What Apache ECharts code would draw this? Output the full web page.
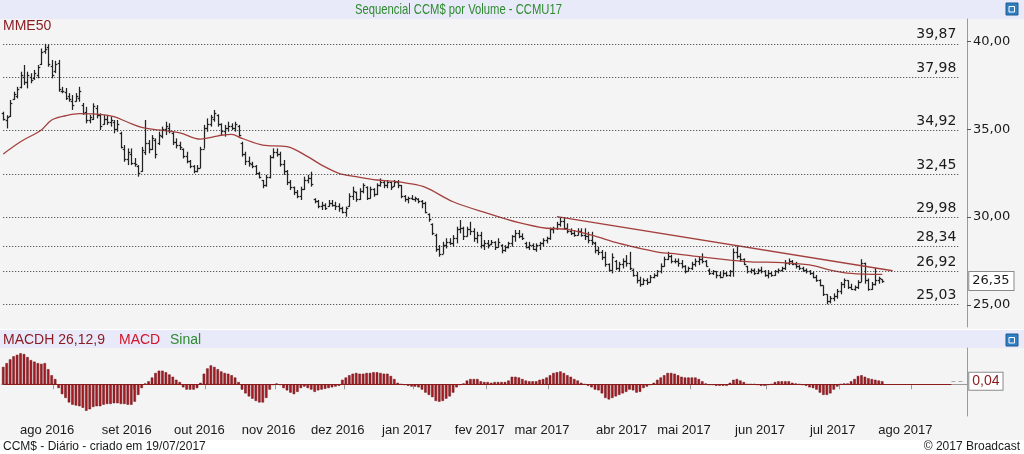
<!DOCTYPE html>
<html><head><meta charset="utf-8">
<script src="https://cdn.jsdelivr.net/npm/echarts@6/dist/echarts.min.js"></script>
<style>html,body{margin:0;padding:0;background:#fff}#c{width:1024px;height:454px}</style>
</head><body><div id="c"></div>
<script>
// ---- data ----
const monthLabels = ['', 'ago 2016', 'set 2016', 'out 2016', 'nov 2016', 'dez 2016', 'jan 2017', 'fev 2017', 'mar 2017', 'abr 2017', 'mai 2017', 'jun 2017', 'jul 2017', 'ago 2017'];
const monthSessions = [15, 23, 21, 20, 20, 20, 21, 18, 23, 18, 22, 21, 21, 16];
const priceTicks = [25, 30, 35, 40];
const fibLevels = [39.87, 37.98, 34.92, 32.45, 29.98, 28.34, 26.92, 25.03];
// [open, high, low, close] per session
const ohlcBars = [
[35.90,36.00,35.50,35.60],[35.50,35.80,35.05,35.70],[35.75,36.67,35.70,36.50],[36.70,37.14,36.67,37.00],[36.90,37.42,36.76,37.30],
[37.40,38.28,37.33,38.10],[38.00,38.66,37.52,37.70],[37.70,38.28,37.33,38.10],[38.00,38.19,37.62,37.80],[37.90,38.38,37.81,38.20],
[38.10,38.66,37.90,38.55],[38.70,39.60,38.66,39.40],[39.45,39.87,39.30,39.60],[39.70,39.84,38.56,38.70],[38.60,38.95,37.90,38.10],
[38.30,38.90,38.20,38.70],[38.80,38.95,37.14,37.30],[37.20,37.42,37.05,37.20],[37.10,37.35,36.67,36.80],[36.90,37.06,36.57,36.70],
[36.60,36.95,36.10,36.40],[36.60,37.06,36.57,36.90],[36.80,37.42,36.57,37.20],[36.40,36.50,35.82,35.90],[36.00,36.28,35.34,35.50],
[35.50,35.82,35.34,35.70],[35.60,36.48,35.53,36.30],[36.20,36.38,35.62,35.80],[35.80,35.90,34.96,35.20],[35.30,35.82,35.25,35.60],
[35.60,35.82,35.25,35.40],[35.40,35.72,35.15,35.50],[35.40,35.53,34.77,35.00],[35.00,35.53,34.86,35.30],[34.80,34.86,33.91,34.00],
[33.90,34.10,33.15,33.30],[33.30,33.91,32.96,33.70],[33.60,33.91,32.96,33.10],[33.10,33.36,32.87,33.00],[32.90,32.96,32.30,32.50],
[32.60,34.00,32.58,33.80],[33.70,35.53,33.53,34.20],[34.20,34.39,33.63,33.90],[33.90,34.67,33.82,34.50],[34.40,34.48,33.34,33.60],
[34.20,34.86,34.10,34.70],[34.60,35.15,34.48,35.00],[35.00,35.43,34.67,35.20],[35.10,35.34,34.77,34.90],[34.80,34.86,34.10,34.30],
[34.30,34.48,33.91,34.10],[34.10,34.29,33.82,34.00],[33.90,33.91,33.34,33.50],[33.50,33.72,33.06,33.20],[33.20,33.25,32.78,32.90],
[32.90,32.96,32.49,32.60],[32.60,32.96,32.55,32.80],[32.80,34.00,32.78,33.90],[33.90,35.25,33.90,35.10],[35.10,35.62,34.86,35.30],
[35.30,35.82,35.15,35.70],[35.60,36.10,35.43,35.90],[35.80,35.85,35.15,35.30],[35.30,35.34,34.67,34.90],[34.90,35.25,34.58,35.10],
[35.10,35.43,34.86,35.20],[35.20,35.34,34.96,35.10],[35.10,35.43,34.86,35.30],[35.20,35.25,34.58,34.70],[34.20,34.29,33.44,33.60],
[33.60,33.72,32.96,33.20],[33.20,33.44,32.87,33.10],[33.00,33.15,32.78,32.90],[32.90,32.96,32.40,32.50],[32.50,32.58,32.20,32.30],
[32.10,32.11,31.64,31.80],[31.80,32.40,31.73,32.30],[32.30,33.53,32.20,33.40],[33.40,33.91,33.34,33.70],[33.70,33.91,33.44,33.60],
[33.60,33.72,32.87,33.00],[33.00,33.25,32.40,32.60],[32.60,32.68,31.82,32.00],[32.00,32.11,31.54,31.70],[31.70,31.73,31.25,31.40],
[31.40,31.54,31.07,31.20],[31.20,31.73,30.97,31.60],[31.60,32.30,31.54,32.10],[32.10,32.40,31.92,32.20],[32.20,32.58,31.73,31.90],
[31.00,31.07,30.78,30.90],[30.90,30.97,30.50,30.60],[30.60,30.87,30.40,30.70],[30.70,30.78,30.40,30.50],[30.60,30.97,30.59,30.80],
[30.80,30.97,30.59,30.70],[30.70,30.87,30.40,30.60],[30.60,30.78,30.30,30.50],[30.50,30.59,30.21,30.30],[30.30,30.59,30.02,30.50],
[30.60,31.35,30.59,31.20],[31.20,31.73,30.97,31.50],[31.40,31.45,30.87,31.00],[31.00,31.64,30.97,31.50],[31.50,31.92,31.35,31.80],
[31.70,31.75,30.97,31.10],[31.10,31.73,31.05,31.60],[31.60,31.64,31.16,31.30],[31.30,31.92,31.25,31.80],[31.80,32.20,31.73,32.00],
[32.00,32.11,31.64,31.80],[31.80,32.11,31.64,32.00],[32.00,32.01,31.54,31.70],[31.75,32.11,31.73,32.00],[32.00,32.11,31.64,31.80],
[31.80,31.82,31.07,31.20],[31.20,31.25,30.87,31.00],[31.00,31.16,30.78,31.10],[31.10,31.25,30.97,31.00],[31.00,31.16,30.87,31.10],
[31.00,31.07,30.78,30.90],[30.90,30.97,30.50,30.80],[30.80,30.87,30.21,30.30],[30.20,30.21,29.73,29.90],[29.60,29.64,28.97,29.10],
[29.00,29.05,28.02,28.20],[28.20,28.40,27.74,27.90],[27.90,28.59,27.90,28.40],[28.40,28.79,28.21,28.60],[28.60,28.79,28.40,28.50],
[28.50,28.97,28.31,28.80],[28.80,29.45,28.50,29.30],[29.30,29.83,29.07,29.40],[29.40,29.45,28.69,28.90],[28.90,29.45,28.88,29.30],
[29.30,29.73,28.97,29.20],[29.20,29.36,28.59,28.80],[28.80,29.16,28.50,29.00],[29.00,29.16,28.21,28.40],[28.40,28.69,28.12,28.50],
[28.50,28.69,28.21,28.40],[28.45,28.69,28.40,28.60],[28.60,28.62,28.12,28.30],[28.30,28.79,28.25,28.60],[28.40,28.45,27.93,28.10],
[28.10,28.40,28.02,28.30],[28.30,28.59,28.21,28.50],[28.50,28.97,28.31,28.90],[28.90,29.26,28.59,29.10],[29.10,29.26,28.79,28.90],
[28.90,29.07,28.69,28.80],[28.50,28.59,28.21,28.30],[28.30,28.59,28.12,28.40],[28.40,28.50,28.12,28.20],[28.20,28.50,28.02,28.40],
[28.40,28.59,28.12,28.50],[28.50,28.79,28.31,28.70],[28.70,28.88,28.50,28.80],[28.80,29.40,28.70,29.30],[29.30,29.45,29.07,29.40],
[29.40,29.73,29.26,29.60],[29.60,29.98,29.45,29.80],[29.80,29.98,29.26,29.40],[29.40,29.64,29.07,29.20],[29.20,29.36,28.97,29.10],
[29.10,29.26,28.88,29.00],[29.00,29.36,28.95,29.20],[29.20,29.36,28.88,29.00],[29.00,29.36,28.69,28.90],[28.90,29.16,28.50,28.70],
[28.70,29.16,28.40,28.60],[28.50,28.59,27.93,28.10],[28.10,28.31,27.83,28.00],[28.00,28.12,27.55,27.70],[27.70,28.02,27.17,27.30],
[27.30,27.36,26.88,27.00],[27.00,27.93,26.79,27.70],[27.50,27.55,26.98,27.10],[27.10,27.45,26.88,27.30],[27.30,27.64,27.07,27.50],
[27.50,27.83,27.17,27.40],[27.40,28.02,26.98,27.10],[27.00,27.07,26.60,26.70],[26.70,26.88,26.22,26.40],[26.40,26.60,26.03,26.20],
[26.20,26.51,26.13,26.40],[26.40,26.51,26.13,26.30],[26.30,26.70,26.25,26.60],[26.60,26.79,26.51,26.70],[26.70,26.98,26.60,26.90],
[26.90,27.36,26.79,27.20],[27.20,27.74,27.17,27.60],[27.60,28.02,27.55,27.80],[27.80,27.85,27.36,27.50],[27.50,27.64,27.36,27.50],
[27.50,27.64,27.17,27.40],[27.40,27.55,27.07,27.20],[27.20,27.26,26.79,26.90],[26.90,27.17,26.88,27.10],[27.10,27.45,26.98,27.30],
[27.30,27.64,27.17,27.50],[27.50,27.74,27.26,27.60],[27.60,27.93,27.36,27.50],[27.50,27.55,27.17,27.20],[27.00,27.07,26.70,26.80],
[26.80,26.98,26.70,26.90],[26.90,26.92,26.51,26.70],[26.70,26.88,26.51,26.60],[26.60,26.98,26.60,26.80],[26.80,26.88,26.60,26.70],
[26.70,26.98,26.60,26.90],[26.90,28.21,26.60,28.00],[28.00,28.34,27.64,27.80],[27.80,27.93,27.45,27.60],[27.60,27.64,27.26,27.30],
[27.20,27.22,26.79,26.90],[26.90,27.07,26.79,27.00],[27.00,27.07,26.70,26.80],[26.80,27.07,26.75,27.00],[27.00,27.17,26.79,26.90],
[26.90,26.98,26.60,26.70],[26.70,26.98,26.51,26.80],[26.80,26.88,26.60,26.70],[26.70,26.98,26.65,26.90],[26.90,27.07,26.79,27.00],
[27.00,27.17,26.88,27.10],[27.10,27.55,26.98,27.40],[27.40,27.64,27.26,27.50],[27.50,27.55,27.26,27.30],[27.30,27.45,27.07,27.20],
[27.20,27.26,26.98,27.10],[27.10,27.17,26.88,27.00],[27.00,27.07,26.79,26.90],[26.90,26.98,26.70,26.80],[26.80,26.88,26.51,26.60],
[26.60,26.70,26.31,26.40],[26.40,26.45,26.05,26.10],[26.10,26.10,25.50,25.60],[25.60,25.60,25.03,25.20],[25.20,25.50,25.08,25.40],
[25.40,25.65,25.20,25.50],[25.50,25.90,25.35,25.80],[25.80,26.30,25.60,26.20],[26.20,26.50,25.95,26.40],[26.40,26.40,25.90,26.00],
[26.00,26.20,25.85,25.90],[25.90,26.10,25.80,26.00],[26.00,26.40,25.90,26.30],[26.30,27.60,26.30,27.40],[27.40,27.40,26.20,26.40],
[26.40,26.50,25.80,25.90],[25.90,26.30,25.85,26.20],[26.20,27.10,26.10,26.40],[26.40,26.60,26.20,26.50],[26.45,26.45,26.25,26.35]
];
// MME50 read at sample sessions: [session index, value]
const mme50 = [
[0,33.59],[5,34.29],[11,34.96],[14,35.53],[18,35.77],[22,35.89],[28,35.85],[32,35.72],[36,35.40],[40,35.11],
[45,34.96],[51,34.80],[57,34.44],[61,34.58],[63,34.66],[66,34.71],[69,34.48],[75,34.10],[82,34.01],[88,33.44],
[92,32.96],[97,32.49],[102,32.30],[108,32.11],[112,32.05],[117,31.92],[122,31.69],[130,30.87],[140,30.21],[149,29.68],
[157,29.36],[163,29.30],[170,28.97],[178,28.50],[184,28.22],[190,27.97],[193,27.93],[201,27.74],[210,27.55],[216,27.45],
[225,27.40],[233,27.27],[239,26.98],[245,26.79],[254,26.73]
];
const trendLine = [[160, 30.02], [257, 26.94]];
const macdHist = [
0.23,0.28,0.33,0.37,0.39,0.41,0.40,0.36,0.32,0.30,
0.28,0.27,0.28,0.20,0.12,0.07,-0.05,-0.13,-0.18,-0.24,
-0.27,-0.28,-0.29,-0.31,-0.35,-0.33,-0.30,-0.29,-0.29,-0.27,
-0.26,-0.26,-0.25,-0.25,-0.26,-0.26,-0.27,-0.27,-0.23,-0.14,
-0.05,0.01,0.04,0.09,0.15,0.18,0.18,0.16,0.13,0.10,
0.06,0.03,-0.04,-0.07,-0.07,-0.07,-0.05,0.02,0.14,0.21,
0.25,0.23,0.20,0.17,0.15,0.14,0.12,0.09,0.03,-0.07,
-0.12,-0.16,-0.19,-0.22,-0.24,-0.24,-0.18,-0.07,-0.01,0.01,
-0.01,-0.05,-0.08,-0.11,-0.13,-0.10,-0.05,-0.03,-0.05,-0.07,
-0.10,-0.08,-0.07,-0.06,-0.05,-0.04,-0.03,-0.02,0.06,0.09,
0.12,0.14,0.15,0.14,0.14,0.15,0.15,0.16,0.16,0.15,
0.14,0.14,0.11,0.07,0.02,0.00,-0.01,-0.02,-0.03,-0.03,
-0.04,-0.07,-0.11,-0.14,-0.17,-0.22,-0.23,-0.22,-0.19,-0.16,
-0.11,-0.04,-0.01,0.01,0.05,0.07,0.07,0.07,0.04,0.03,
0.03,0.02,0.03,0.03,0.03,0.03,0.05,0.10,0.10,0.09,
0.07,0.05,0.04,0.04,0.04,0.06,0.07,0.09,0.12,0.15,
0.16,0.17,0.15,0.12,0.10,0.07,0.05,0.02,0.00,-0.02,
-0.04,-0.07,-0.08,-0.12,-0.18,-0.20,-0.18,-0.16,-0.14,-0.12,
-0.10,-0.07,-0.08,-0.11,-0.10,-0.05,-0.03,-0.01,0.02,0.06,
0.09,0.12,0.15,0.15,0.14,0.12,0.10,0.09,0.09,0.09,
0.09,0.07,0.04,0.01,-0.01,-0.01,-0.02,-0.02,-0.02,-0.02,
0.02,0.06,0.07,0.05,0.03,0.00,0.00,0.00,-0.01,-0.02,
-0.02,-0.01,0.00,0.03,0.04,0.04,0.04,0.04,0.02,0.01,
0.00,-0.01,-0.02,-0.04,-0.05,-0.07,-0.11,-0.14,-0.14,-0.12,
-0.07,-0.03,0.00,0.01,0.01,0.04,0.07,0.11,0.12,0.10,
0.08,0.07,0.06,0.05,0.04
];

// ---- build categories (sessions) ----
const categories = [];
const monthStartLabel = {};
monthSessions.forEach((n, m) => {
  for (let d = 0; d < n; d++) {
    if (d === 0) monthStartLabel[categories.length] = monthLabels[m];
    categories.push(m + ':' + d);
  }
});
const lastCat = categories.length - 1;
const isMonthStart = (idx) => idx > 0 && monthStartLabel[idx] !== undefined;
const fmt = (v) => Number(v).toFixed(2).replace('.', ',');
const lastClose = ohlcBars[ohlcBars.length - 1][3];
const lastHist = macdHist[macdHist.length - 1];
const lastIdx = ohlcBars.length - 1;

const AXIS = '#9a9a9a';
const RED = '#a3403e';

const chart = echarts.init(document.getElementById('c'));
chart.setOption({
  animation: false,
  backgroundColor: '#f4f4f4',
  textStyle: { fontFamily: 'Liberation Sans, Arial, sans-serif' },
  grid: [
    { left: 1.5, right: 57, top: 19, height: 308 },
    { left: 1.5, right: 57, top: 348, height: 68 }
  ],
  xAxis: [
    { gridIndex: 0, type: 'category', data: categories, boundaryGap: true,
      axisLine: { show: false }, axisTick: { show: false }, axisLabel: { show: false }, splitLine: { show: false } },
    { gridIndex: 1, type: 'category', data: categories, boundaryGap: true,
      axisLine: { show: true, lineStyle: { color: AXIS } },
      axisTick: { show: true, interval: (i) => isMonthStart(i), length: 5, lineStyle: { color: AXIS } },
      axisLabel: { interval: (i) => isMonthStart(i), formatter: (v, i) => monthStartLabel[i] || '',
        color: '#1a1a1a', fontFamily: 'Liberation Sans', fontSize: 13, margin: 8, padding: [0, 16, 0, 0] },
      splitLine: { show: false } }
  ],
  yAxis: [
    { gridIndex: 0, type: 'value', position: 'right', min: 23.735, max: 41.282, scale: true,
      axisLine: { show: true, lineStyle: { color: AXIS } },
      axisTick: { show: true, length: 4, customValues: priceTicks, lineStyle: { color: '#555' } },
      axisLabel: { customValues: priceTicks, formatter: (v) => fmt(v), margin: 6, color: '#1a1a1a',
        fontFamily: 'DejaVu Sans', fontSize: 13 },
      splitLine: { show: false } },
    { gridIndex: 1, type: 'value', position: 'right', min: -0.419, max: 0.48,
      axisLine: { show: true, lineStyle: { color: AXIS } }, axisTick: { show: false },
      axisLabel: { show: false }, splitLine: { show: false } }
  ],
  series: [
    { name: 'MME50', type: 'line', xAxisIndex: 0, yAxisIndex: 0, data: mme50, smooth: 0.35,
      symbol: 'none', lineStyle: { color: RED, width: 1.3 }, z: 4,
      markLine: { silent: true, symbol: ['none', 'none'], animation: false, precision: 2,
        lineStyle: { type: [1, 2], color: '#303030', width: 1 },
        label: { show: true, position: 'insideEndTop', formatter: (p) => fmt(p.data.coord ? p.data.coord[1] : p.value),
          color: '#1a1a1a', fontFamily: 'DejaVu Sans', fontSize: 14, distance: [2, 2] },
        data: fibLevels.map((v) => [{ coord: [0, v] }, { coord: [lastCat - 2, v] }]) } },
    { name: 'LT', type: 'line', xAxisIndex: 0, yAxisIndex: 0, data: trendLine, symbol: 'none',
      lineStyle: { color: RED, width: 1.3 }, z: 4,
      markLine: { silent: true, symbol: ['none', 'none'], animation: false,
        data: [[{ coord: [lastIdx, lastClose], lineStyle: { color: 'rgba(0,0,0,0)', width: 0 },
          label: { show: true, position: 'end', distance: 4, formatter: fmt(lastClose), color: '#1a1a1a',
            fontFamily: 'DejaVu Sans', fontSize: 13, backgroundColor: '#fff', borderColor: '#8a8a8a',
            borderWidth: 1, padding: [3, 4, 2, 3] } }, { coord: [lastCat, lastClose] }]] } },
    { name: 'OHLC', type: 'custom', xAxisIndex: 0, yAxisIndex: 0, z: 3, silent: true,
      data: ohlcBars.map((b, i) => [i, b[0], b[1], b[2], b[3]]),
      encode: { x: 0, y: [1, 2, 3, 4] },
      renderItem: (params, api) => {
        const i = api.value(0);
        const o = api.coord([i, api.value(1)]);
        const h = api.coord([i, api.value(2)]);
        const l = api.coord([i, api.value(3)]);
        const c = api.coord([i, api.value(4)]);
        const cx = Math.round(h[0]) + 0.5;
        const st = { stroke: '#222222', lineWidth: 1.25 };
        return { type: 'group', children: [
          { type: 'line', shape: { x1: cx, y1: h[1], x2: cx, y2: l[1] }, style: st },
          { type: 'line', shape: { x1: cx - 1.8, y1: Math.round(o[1]) + 0.5, x2: cx, y2: Math.round(o[1]) + 0.5 }, style: st },
          { type: 'line', shape: { x1: cx, y1: Math.round(c[1]) + 0.5, x2: cx + 1.8, y2: Math.round(c[1]) + 0.5 }, style: st }
        ] };
      } },
    { name: 'MACDH', type: 'bar', xAxisIndex: 1, yAxisIndex: 1, data: macdHist, barWidth: 2.5,
      itemStyle: { color: '#a51d26', borderColor: '#6a0f12', borderWidth: 0.5 },
      markLine: { silent: true, symbol: ['none', 'none'], animation: false,
        data: [
          [{ coord: [0, 0], lineStyle: { color: '#8b1a1a', width: 1, type: 'solid' }, label: { show: false } }, { coord: [lastCat - 4, 0] }],
          [{ coord: [lastCat - 4, lastHist], lineStyle: { color: '#aaaaaa', width: 1, type: [4, 3] },
             label: { show: true, position: 'end', distance: 4, formatter: fmt(lastHist), color: '#8b1a1a',
               fontFamily: 'Liberation Sans', fontSize: 14, backgroundColor: '#fff', borderColor: '#8a8a8a',
               borderWidth: 1, padding: [2, 3, 1, 3] } }, { coord: [lastCat, lastHist] }]
        ] } }
  ],
  graphic: [
    { type: 'rect', silent: true, shape: { x: 0, y: 0, width: 1024, height: 19 }, style: { fill: '#e8e9f9' } },
    { type: 'text', silent: true, x: 355, y: 10, scaleX: 0.75,
      style: { x: 0, y: 0, text: 'Sequencial CCM$ por Volume - CCMU17', fill: '#2e8b2e',
      font: '15px "Liberation Sans", sans-serif', verticalAlign: 'middle' } },
    { type: 'group', x: 1006, y: 3, silent: true, children: [
      { type: 'rect', shape: { x: 0, y: 0, width: 12, height: 12 }, style: { fill: '#2f7fc0', stroke: '#1b5d93', lineWidth: 1 } },
      { type: 'rect', shape: { x: 3, y: 3.5, width: 5.5, height: 5.5 }, style: { fill: 'none', stroke: '#fff', lineWidth: 1 } } ] },
    { type: 'text', silent: true, style: { x: 3, y: 26, text: 'MME50', fill: '#8b1e24', font: '14px "Liberation Sans"', verticalAlign: 'middle' } },
    { type: 'rect', silent: true, shape: { x: 0, y: 329, width: 1024, height: 1 }, style: { fill: '#ffffff' } },
    { type: 'rect', silent: true, shape: { x: 0, y: 330, width: 1024, height: 18 }, style: { fill: '#e8e9f9' } },
    { type: 'text', silent: true, style: { x: 3, y: 340, text: 'MACDH 26,12,9', fill: '#8b1e24', font: '14px "Liberation Sans"', verticalAlign: 'middle' } },
    { type: 'text', silent: true, style: { x: 119, y: 340, text: 'MACD', fill: '#d4142a', font: '14px "Liberation Sans"', verticalAlign: 'middle' } },
    { type: 'text', silent: true, style: { x: 170, y: 340, text: 'Sinal', fill: '#2e8b2e', font: '14px "Liberation Sans"', verticalAlign: 'middle' } },
    { type: 'group', x: 1006, y: 334, silent: true, children: [
      { type: 'rect', shape: { x: 0, y: 0, width: 12, height: 12 }, style: { fill: '#2f7fc0', stroke: '#1b5d93', lineWidth: 1 } },
      { type: 'rect', shape: { x: 3, y: 3.5, width: 5.5, height: 5.5 }, style: { fill: 'none', stroke: '#fff', lineWidth: 1 } } ] },
    { type: 'rect', silent: true, shape: { x: 0, y: 440, width: 1024, height: 14 }, style: { fill: '#ffffff' } },
    { type: 'text', silent: true, style: { x: 3, y: 447, text: 'CCM$ - Diário - criado em 19/07/2017', fill: '#1a1a1a', font: '12px "Liberation Sans"', verticalAlign: 'middle' } },
    { type: 'text', silent: true, style: { x: 1020, y: 447, text: '© 2017 Broadcast', fill: '#1a1a1a', font: '12px "Liberation Sans"', verticalAlign: 'middle', align: 'right' } }
  ]
});
</script>
</body></html>
